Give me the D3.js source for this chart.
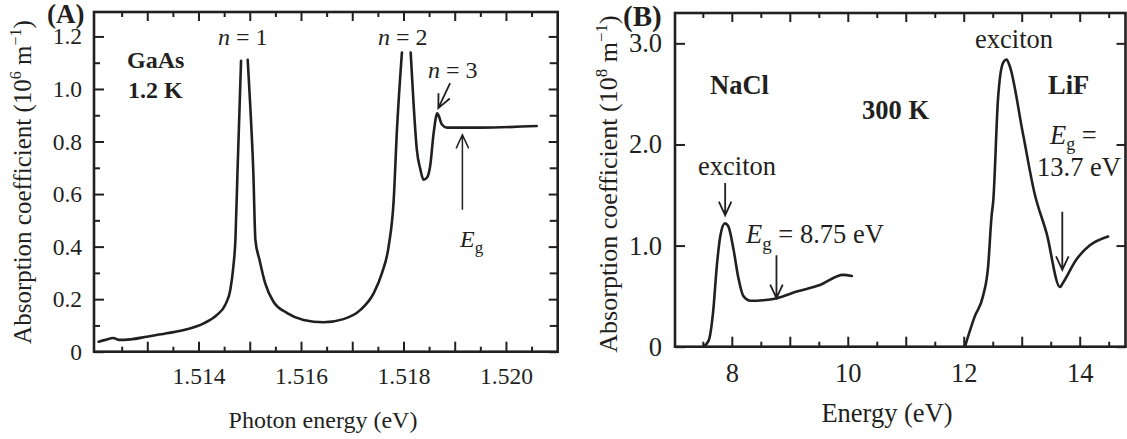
<!DOCTYPE html>
<html>
<head>
<meta charset="utf-8">
<script src="https://cdn.jsdelivr.net/npm/d3@7"></script>
<style>
body { margin: 0; background: #fff; }
text { font-family: "Liberation Serif", "Times New Roman", serif; fill: #231f20; }
</style>
</head>
<body>
<div id="chart"></div>
<script>
// panel A: GaAs at 1.2 K, photon energy (eV) vs absorption (10^6 m^-1)
// null = peak goes off scale, the line is broken there
var gaasEnergy = [1.51205, 1.51218, 1.51234, 1.51244, 1.51267, 1.51299, 1.51338, 1.51377, 1.51410,
    1.51436, 1.51452, 1.51462, 1.51468, 1.51472, 1.51476, 1.51483, 1.51489, 1.51496, 1.51501,
    1.51507, 1.51511, 1.51519, 1.51530, 1.51546, 1.51573, 1.51605, 1.51644, 1.51683, 1.51716,
    1.51742, 1.51758, 1.51771, 1.51781, 1.51787, 1.51797, 1.51806, 1.51814, 1.51820, 1.51826,
    1.51833, 1.51839, 1.51846, 1.51852, 1.51859, 1.51866, 1.51875, 1.51885, 1.51950, 1.52060]
var gaasAlpha = [0.038, 0.045, 0.052, 0.045, 0.047, 0.057, 0.070, 0.085, 0.108,
    0.140, 0.178, 0.235, 0.324, 0.426, 0.681, 1.107, null, 1.111, 0.935,
    0.681, 0.426, 0.350, 0.261, 0.191, 0.147, 0.121, 0.112, 0.124, 0.159,
    0.223, 0.299, 0.400, 0.580, 0.834, 1.139, null, 1.139, 0.935, 0.770,
    0.694, 0.655, 0.663, 0.706, 0.834, 0.907, 0.865, 0.853, 0.853, 0.859]

// panel B: NaCl and LiF at 300 K, energy (eV) vs absorption (10^8 m^-1)
var naclEnergy = [7.51, 7.60, 7.68, 7.74, 7.80, 7.88, 7.94, 8.03, 8.11, 8.20, 8.32, 8.54, 8.78, 9.12, 9.52, 9.92, 10.07]
var naclAlpha = [0.0, 0.06, 0.36, 0.79, 1.09, 1.22, 1.19, 0.96, 0.69, 0.50, 0.455, 0.46, 0.48, 0.545, 0.61, 0.71, 0.70]
var lifEnergy = [12.02, 12.19, 12.33, 12.42, 12.48, 12.51, 12.59, 12.68, 12.74, 12.79, 13.02, 13.22, 13.43, 13.66, 13.71, 13.94, 14.17, 14.49]
var lifAlpha = [0.0, 0.30, 0.495, 0.79, 1.29, 1.45, 2.44, 2.81, 2.84, 2.78, 2.11, 1.52, 1.12, 0.59, 0.63, 0.86, 1.0, 1.09]

// ticks
var gaasXLabels = [1.514, 1.516, 1.518, 1.520]
var gaasXMajor = [1.513, 1.514, 1.515, 1.516, 1.517, 1.518, 1.519, 1.520]
var gaasXMinor = [1.5125, 1.5135, 1.5145, 1.5155, 1.5165, 1.5175, 1.5185, 1.5195, 1.5205]
var gaasYMajor = [0, 0.2, 0.4, 0.6, 0.8, 1.0, 1.2]
var gaasYMinor = [0.1, 0.3, 0.5, 0.7, 0.9, 1.1]
var halideXLabels = [8, 10, 12, 14]
var halideXMajor = [8, 9, 10, 11, 12, 13, 14]
var halideXMinor = [7.5, 8.5, 9.5, 10.5, 11.5, 12.5, 13.5, 14.5]
var halideYMajor = [0, 1, 2, 3]

var svgWidth = 1127
var svgHeight = 439
var ink = "#231f20"

var svg = d3.select("#chart")
    .append("svg")
    .attr("width", svgWidth)
    .attr("height", svgHeight)

var xA = d3.scaleLinear().domain([1.51196, 1.52101]).range([94, 557.7])
var yA = d3.scaleLinear().domain([0, 1.293]).range([351.7, 12])
var xB = d3.scaleLinear().domain([7.02, 14.79]).range([675, 1125.5])
var yB = d3.scaleLinear().domain([0, 3.3]).range([346.7, 13])

function near(list, d) {
    return list.some(v => Math.abs(v - d) < 1e-9)
}

function drawAxes(x, y, o) {
    var g = svg.append("g")
    var bottom = y.range()[0], top = y.range()[1]
    var left = x.range()[0], right = x.range()[1]

    g.append("g").attr("transform", `translate(0,${bottom})`)
        .call(d3.axisBottom(x).tickValues(o.xMajor).tickSize(-10).tickSizeOuter(0).tickPadding(o.xPad)
            .tickFormat(d => near(o.xLabels, d) ? o.xFmt(d) : ""))
    g.append("g").attr("transform", `translate(0,${bottom})`)
        .call(d3.axisBottom(x).tickValues(o.xMinor).tickSize(-5).tickSizeOuter(0).tickFormat(""))
    g.append("g").attr("transform", `translate(0,${top})`)
        .call(d3.axisTop(x).tickValues(o.xMajor).tickSize(-9).tickSizeOuter(0).tickFormat(""))
    g.append("g").attr("transform", `translate(0,${top})`)
        .call(d3.axisTop(x).tickValues(o.xMinor).tickSize(-5).tickSizeOuter(0).tickFormat(""))

    g.append("g").attr("transform", `translate(${left},0)`)
        .call(d3.axisLeft(y).tickValues(o.yMajor).tickSize(-10).tickSizeOuter(0).tickPadding(o.yPad)
            .tickFormat(o.yFmt))
    g.append("g").attr("transform", `translate(${right},0)`)
        .call(d3.axisRight(y).tickValues(o.yMajor).tickSize(-9).tickSizeOuter(0).tickFormat(""))
    if (o.yMinor) {
        g.append("g").attr("transform", `translate(${left},0)`)
            .call(d3.axisLeft(y).tickValues(o.yMinor).tickSize(-6).tickSizeOuter(0).tickFormat(""))
        g.append("g").attr("transform", `translate(${right},0)`)
            .call(d3.axisRight(y).tickValues(o.yMinor).tickSize(-8).tickSizeOuter(0).tickFormat(""))
    }

    g.selectAll(".domain").remove()
    g.selectAll(".tick line").attr("stroke", ink).attr("stroke-width", 2)
    g.selectAll("g").attr("font-family", null).attr("font-size", null)
    g.selectAll(".tick text").attr("font-size", o.fontSize).style("fill", ink)

    g.append("rect")
        .attr("x", left).attr("y", top)
        .attr("width", right - left).attr("height", bottom - top)
        .attr("fill", "none").attr("stroke", ink).attr("stroke-width", 2.6)
}

drawAxes(xA, yA, {
    xMajor: gaasXMajor, xMinor: gaasXMinor, xLabels: gaasXLabels, xFmt: d3.format(".3f"), xPad: 16,
    yMajor: gaasYMajor, yMinor: gaasYMinor, yFmt: d => d === 0 ? "0" : d3.format(".1f")(d), yPad: 12,
    fontSize: "23.5px"
})
drawAxes(xB, yB, {
    xMajor: halideXMajor, xMinor: halideXMinor, xLabels: halideXLabels, xFmt: d3.format("d"), xPad: 16,
    yMajor: halideYMajor, yMinor: null, yFmt: d => d === 0 ? "0" : d3.format(".1f")(d), yPad: 13,
    fontSize: "26.5px"
})

// curves
function drawCurve(energy, alpha, x, y) {
    var pts = energy.map((e, i) => [e, alpha[i]])
    var line = d3.line()
        .defined(d => d[1] !== null)
        .x(d => x(d[0]))
        .y(d => y(d[1]))
        .curve(d3.curveMonotoneX)
    svg.append("path")
        .attr("d", line(pts))
        .attr("fill", "none")
        .attr("stroke", ink)
        .attr("stroke-width", 2.6)
        .attr("stroke-linejoin", "round")
        .attr("stroke-linecap", "round")
}
drawCurve(gaasEnergy, gaasAlpha, xA, yA)
drawCurve(naclEnergy, naclAlpha, xB, yB)
drawCurve(lifEnergy, lifAlpha, xB, yB)

// arrows (open V heads), given in data units
function arrow(x, y, e1, a1, e2, a2, w) {
    var x1 = x(e1), y1 = y(a1), x2 = x(e2), y2 = y(a2)
    var ang = Math.atan2(y2 - y1, x2 - x1)
    var len = 15, half = 0.43
    var p = d3.path()
    p.moveTo(x1, y1)
    p.lineTo(x2, y2)
    p.moveTo(x2 - len * Math.cos(ang - half), y2 - len * Math.sin(ang - half))
    p.lineTo(x2, y2)
    p.lineTo(x2 - len * Math.cos(ang + half), y2 - len * Math.sin(ang + half))
    svg.append("path")
        .attr("d", p.toString())
        .attr("fill", "none")
        .attr("stroke", ink)
        .attr("stroke-width", w)
}
arrow(xA, yA, 1.51891, 1.022, 1.51868, 0.927, 1.8)
arrow(xA, yA, 1.51915, 0.54, 1.51915, 0.826, 1.5)
arrow(xB, yB, 7.885, 1.62, 7.885, 1.30, 1.8)
arrow(xB, yB, 8.77, 0.905, 8.77, 0.48, 1.8)
arrow(xB, yB, 13.7, 1.335, 13.7, 0.759, 1.8)

// labels
function label(x, y, size, parts, opts) {
    opts = opts || {}
    var t = svg.append("text")
        .attr("x", x).attr("y", y)
        .attr("font-size", size)
        .attr("font-weight", opts.bold ? "bold" : null)
        .attr("text-anchor", opts.anchor || "start")
    if (opts.transform) t.attr("transform", opts.transform).attr("x", 0).attr("y", 0)
    parts.forEach(p => {
        var s = t.append("tspan").text(p.t)
        if (p.i) s.attr("font-style", "italic")
        if (p.dy) s.attr("dy", p.dy)
        if (p.fs) s.attr("font-size", p.fs)
    })
    return t
}

label(47, 23, 27, [{ t: "(A)" }], { bold: true })
label(127, 68, 24, [{ t: "GaAs" }], { bold: true })
label(128, 98, 24, [{ t: "1.2 K" }], { bold: true })
label(218, 45, 24, [{ t: "n", i: true }, { t: " = 1" }])
label(378, 45, 24, [{ t: "n", i: true }, { t: " = 2" }])
label(428, 78, 24, [{ t: "n", i: true }, { t: " = 3" }])
label(460, 247, 24, [{ t: "E", i: true }, { t: "g", fs: 17, dy: 6 }])
label(323, 428, 24, [{ t: "Photon energy (eV)" }], { anchor: "middle" })
label(0, 0, 25, [{ t: "Absorption coefficient (10" }, { t: "6", fs: 16, dy: -10 }, { t: " m", dy: 10 },
    { t: "−1", fs: 16, dy: -10 }, { t: ")", dy: 10 }], { anchor: "middle", transform: "translate(31,182) rotate(-90)" })

label(623, 26, 29, [{ t: "(B)" }], { bold: true })
label(710, 94, 26.5, [{ t: "NaCl" }], { bold: true })
label(862, 119, 26.5, [{ t: "300 K" }], { bold: true })
label(1048, 94, 26.5, [{ t: "LiF" }], { bold: true })
label(698, 175, 26.5, [{ t: "exciton" }])
label(975, 48, 26.5, [{ t: "exciton" }])
label(746, 243, 26.5, [{ t: "E", i: true }, { t: "g", fs: 19, dy: 7 }, { t: " = 8.75 eV", dy: -7 }])
label(1050, 144, 26.5, [{ t: "E", i: true }, { t: "g", fs: 18, dy: 6 }, { t: " =", dy: -6 }])
label(1037, 176, 26.5, [{ t: "13.7 eV" }])
label(887, 422, 26.5, [{ t: "Energy (eV)" }], { anchor: "middle" })
label(0, 0, 26, [{ t: "Absorption coefficient (10" }, { t: "8", fs: 17, dy: -10 }, { t: " m", dy: 10 },
    { t: "−1", fs: 17, dy: -10 }, { t: ")", dy: 10 }], { anchor: "middle", transform: "translate(617,184) rotate(-90)" })
</script>
</body>
</html>
